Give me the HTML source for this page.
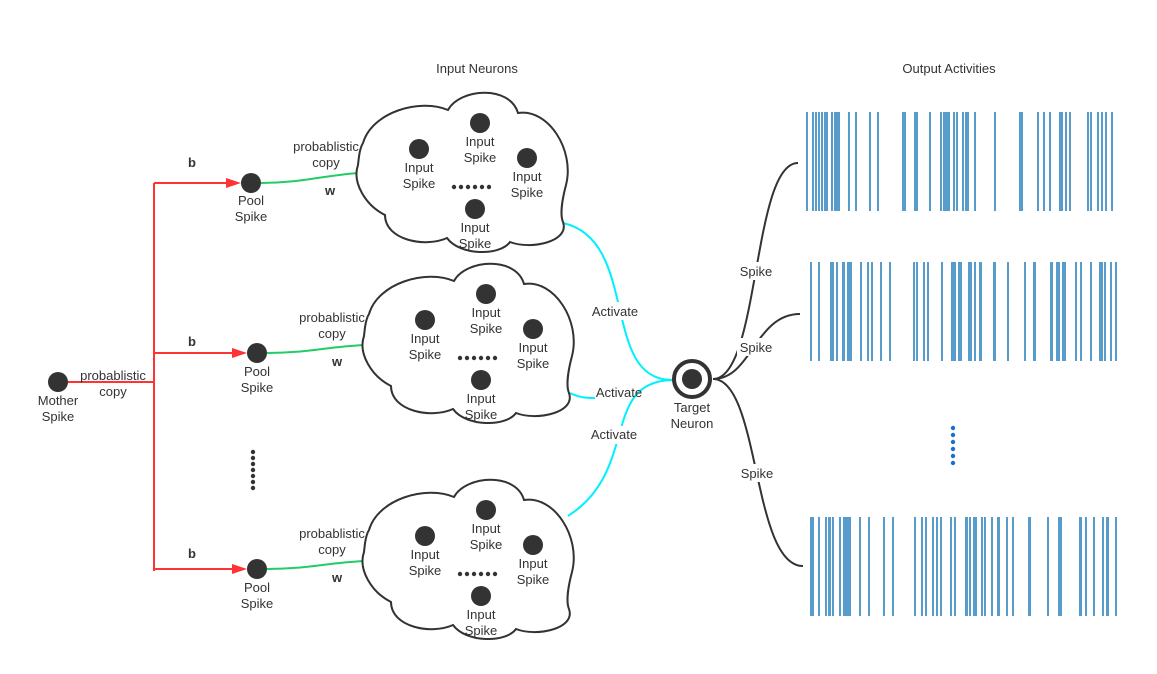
<!DOCTYPE html>
<html><head><meta charset="utf-8"><style>
html,body{margin:0;padding:0;background:#fff;}
svg{display:block;}
text{font-family:"Liberation Sans",sans-serif;font-size:13px;fill:#333;}
.b{font-weight:bold;}
</style></head><body>
<svg width="1157" height="674" viewBox="0 0 1157 674" xmlns="http://www.w3.org/2000/svg">
<defs>
<path id="cloud" d="M363,143 C372,112 420,98 448,110 C460,88 510,85 518,113 C548,108 575,150 566,185 C562,200 560,215 563,222 C570,242 530,250 510,242 C500,256 460,256 447,238 C425,248 385,240 385,215 C365,205 352,182 358,165 C359,155 360,148 363,143 Z" fill="#fff" stroke="#333" stroke-width="2"/>
<g id="inner">
<circle cx="419" cy="149" r="10" fill="#333"/>
<text x="419" y="172" text-anchor="middle">Input</text><text x="419" y="188" text-anchor="middle">Spike</text>
<circle cx="480" cy="123" r="10" fill="#333"/>
<text x="480" y="146" text-anchor="middle">Input</text><text x="480" y="162" text-anchor="middle">Spike</text>
<circle cx="527" cy="158" r="10" fill="#333"/>
<text x="527" y="181" text-anchor="middle">Input</text><text x="527" y="197" text-anchor="middle">Spike</text>
<circle cx="475" cy="209" r="10" fill="#333"/>
<text x="475" y="232" text-anchor="middle">Input</text><text x="475" y="248" text-anchor="middle">Spike</text>
<g fill="#333"><circle cx="454" cy="187" r="2.2"/><circle cx="461" cy="187" r="2.2"/><circle cx="468" cy="187" r="2.2"/><circle cx="475" cy="187" r="2.2"/><circle cx="482" cy="187" r="2.2"/><circle cx="489" cy="187" r="2.2"/></g>
</g>
</defs>

<text x="477" y="73" text-anchor="middle">Input Neurons</text>
<text x="949" y="73" text-anchor="middle">Output Activities</text>

<g stroke="#ff3333" stroke-width="2" fill="none">
<line x1="66" y1="382" x2="155" y2="382"/>
<line x1="154" y1="183" x2="154" y2="571"/>
<line x1="154" y1="183" x2="228" y2="183"/>
<line x1="154" y1="353" x2="234" y2="353"/>
<line x1="154" y1="569" x2="234" y2="569"/>
</g>
<g fill="#ff3333">
<polygon points="226,178 241,183 226,188"/>
<polygon points="232,348 247,353 232,358"/>
<polygon points="232,564 247,569 232,574"/>
</g>
<circle cx="58" cy="382" r="10" fill="#333"/>
<text x="58" y="405" text-anchor="middle">Mother</text><text x="58" y="421" text-anchor="middle">Spike</text>
<text x="113" y="380" text-anchor="middle">probablistic</text><text x="113" y="396" text-anchor="middle">copy</text>
<text class="b" x="192" y="167" text-anchor="middle">b</text>
<text class="b" x="192" y="346" text-anchor="middle">b</text>
<text class="b" x="192" y="558" text-anchor="middle">b</text>

<circle cx="251" cy="183" r="10" fill="#333"/>
<text x="251" y="205" text-anchor="middle">Pool</text><text x="251" y="221" text-anchor="middle">Spike</text>
<circle cx="257" cy="353" r="10" fill="#333"/>
<text x="257" y="376" text-anchor="middle">Pool</text><text x="257" y="392" text-anchor="middle">Spike</text>
<circle cx="257" cy="569" r="10" fill="#333"/>
<text x="257" y="592" text-anchor="middle">Pool</text><text x="257" y="608" text-anchor="middle">Spike</text>
<g fill="#333"><circle cx="253" cy="452" r="2.2"/><circle cx="253" cy="458" r="2.2"/><circle cx="253" cy="464" r="2.2"/><circle cx="253" cy="470" r="2.2"/><circle cx="253" cy="476" r="2.2"/><circle cx="253" cy="482" r="2.2"/><circle cx="253" cy="488" r="2.2"/></g>

<g stroke="#22cc66" stroke-width="2" fill="none">
<path d="M261,183 C300,183 320,176 358,173"/>
<path d="M267,353 C306,353 326,347 364,345"/>
<path d="M267,569 C306,569 326,563 364,561"/>
</g>
<text x="326" y="151" text-anchor="middle">probablistic</text><text x="326" y="167" text-anchor="middle">copy</text>
<text class="b" x="330" y="195" text-anchor="middle">w</text>
<text x="332" y="322" text-anchor="middle">probablistic</text><text x="332" y="338" text-anchor="middle">copy</text>
<text class="b" x="337" y="366" text-anchor="middle">w</text>
<text x="332" y="538" text-anchor="middle">probablistic</text><text x="332" y="554" text-anchor="middle">copy</text>
<text class="b" x="337" y="582" text-anchor="middle">w</text>

<g stroke="#00f0ff" stroke-width="2" fill="none">
<path d="M563,223 C640,240 600,380 672,380"/>
<path d="M570,393 C580,398 588,398 595,398"/>
<path d="M568,516 C640,470 600,382 672,380"/>
</g>

<use href="#cloud"/><use href="#inner"/>
<g transform="translate(6,171)"><use href="#cloud"/><use href="#inner"/></g>
<g transform="translate(6,387)"><use href="#cloud"/><use href="#inner"/></g>

<rect x="587" y="302" width="58" height="18" fill="#fff"/>
<text x="615" y="316" text-anchor="middle">Activate</text>
<text x="619" y="397" text-anchor="middle">Activate</text>
<rect x="585" y="426" width="58" height="18" fill="#fff"/>
<text x="614" y="439" text-anchor="middle">Activate</text>

<circle cx="692" cy="379" r="18" fill="#fff" stroke="#333" stroke-width="4"/>
<circle cx="692" cy="379" r="10" fill="#333"/>
<text x="692" y="412" text-anchor="middle">Target</text><text x="692" y="428" text-anchor="middle">Neuron</text>

<g stroke="#333" stroke-width="2" fill="none">
<path d="M713,379 C760,379 752,163 798,163"/>
<path d="M713,379 C752,379 755,314 800,314"/>
<path d="M713,379 C760,379 752,566 803,566"/>
</g>
<rect x="737" y="262" width="38" height="18" fill="#fff"/>
<text x="756" y="276" text-anchor="middle">Spike</text>
<rect x="737" y="338" width="38" height="18" fill="#fff"/>
<text x="756" y="352" text-anchor="middle">Spike</text>
<rect x="738" y="464" width="38" height="18" fill="#fff"/>
<text x="757" y="478" text-anchor="middle">Spike</text>

<g fill="#1a6fd0"><circle cx="953" cy="428" r="2.2"/><circle cx="953" cy="435" r="2.2"/><circle cx="953" cy="442" r="2.2"/><circle cx="953" cy="449" r="2.2"/><circle cx="953" cy="456" r="2.2"/><circle cx="953" cy="463" r="2.2"/></g>

<g fill="#4a94c8" opacity="0.92">
<g transform="translate(0,112)">
<rect x="806" width="2" height="99"/><rect x="812" width="2" height="99"/><rect x="815" width="2" height="99"/><rect x="818" width="2" height="99"/><rect x="821" width="2" height="99"/><rect x="824" width="4" height="99"/><rect x="831" width="2" height="99"/><rect x="834" width="6" height="99"/><rect x="848" width="2" height="99"/><rect x="855" width="2" height="99"/><rect x="869" width="2" height="99"/><rect x="877" width="2" height="99"/><rect x="902" width="4" height="99"/><rect x="914" width="4" height="99"/><rect x="929" width="2" height="99"/><rect x="940" width="2" height="99"/><rect x="943" width="2" height="99"/><rect x="945" width="5" height="99"/><rect x="953" width="2" height="99"/><rect x="956" width="2" height="99"/><rect x="962" width="2" height="99"/><rect x="965" width="4" height="99"/><rect x="974" width="2" height="99"/><rect x="994" width="2" height="99"/><rect x="1019" width="4" height="99"/><rect x="1037" width="2" height="99"/><rect x="1043" width="2" height="99"/><rect x="1049" width="2" height="99"/><rect x="1059" width="4" height="99"/><rect x="1065" width="2" height="99"/><rect x="1069" width="2" height="99"/><rect x="1087" width="2" height="99"/><rect x="1090" width="2" height="99"/><rect x="1097" width="2" height="99"/><rect x="1101" width="2" height="99"/><rect x="1105" width="2" height="99"/><rect x="1111" width="2" height="99"/>
</g>
<g transform="translate(0,262)">
<rect x="810" width="2" height="99"/><rect x="818" width="2" height="99"/><rect x="830" width="4" height="99"/><rect x="836" width="2" height="99"/><rect x="842" width="3" height="99"/><rect x="847" width="5" height="99"/><rect x="860" width="2" height="99"/><rect x="867" width="2" height="99"/><rect x="871" width="2" height="99"/><rect x="880" width="2" height="99"/><rect x="889" width="2" height="99"/><rect x="913" width="2" height="99"/><rect x="916" width="2" height="99"/><rect x="923" width="2" height="99"/><rect x="927" width="2" height="99"/><rect x="941" width="2" height="99"/><rect x="951" width="5" height="99"/><rect x="958" width="4" height="99"/><rect x="968" width="4" height="99"/><rect x="974" width="2" height="99"/><rect x="979" width="3" height="99"/><rect x="993" width="3" height="99"/><rect x="1007" width="2" height="99"/><rect x="1024" width="2" height="99"/><rect x="1033" width="3" height="99"/><rect x="1050" width="3" height="99"/><rect x="1056" width="4" height="99"/><rect x="1062" width="4" height="99"/><rect x="1075" width="2" height="99"/><rect x="1080" width="2" height="99"/><rect x="1090" width="2" height="99"/><rect x="1099" width="4" height="99"/><rect x="1104" width="2" height="99"/><rect x="1110" width="2" height="99"/><rect x="1115" width="2" height="99"/>
</g>
<g transform="translate(0,517)">
<rect x="810" width="4" height="99"/><rect x="818" width="2" height="99"/><rect x="825" width="2" height="99"/><rect x="828" width="3" height="99"/><rect x="832" width="2" height="99"/><rect x="839" width="2" height="99"/><rect x="843" width="8" height="99"/><rect x="859" width="2" height="99"/><rect x="868" width="2" height="99"/><rect x="883" width="2" height="99"/><rect x="892" width="2" height="99"/><rect x="914" width="2" height="99"/><rect x="921" width="2" height="99"/><rect x="925" width="2" height="99"/><rect x="932" width="2" height="99"/><rect x="936" width="2" height="99"/><rect x="940" width="2" height="99"/><rect x="950" width="2" height="99"/><rect x="954" width="2" height="99"/><rect x="965" width="3" height="99"/><rect x="969" width="2" height="99"/><rect x="973" width="4" height="99"/><rect x="981" width="2" height="99"/><rect x="984" width="2" height="99"/><rect x="991" width="2" height="99"/><rect x="997" width="3" height="99"/><rect x="1006" width="2" height="99"/><rect x="1012" width="2" height="99"/><rect x="1028" width="3" height="99"/><rect x="1047" width="2" height="99"/><rect x="1058" width="4" height="99"/><rect x="1079" width="3" height="99"/><rect x="1085" width="2" height="99"/><rect x="1093" width="2" height="99"/><rect x="1102" width="2" height="99"/><rect x="1106" width="3" height="99"/><rect x="1115" width="2" height="99"/>
</g>
</g>
</svg>
</body></html>
